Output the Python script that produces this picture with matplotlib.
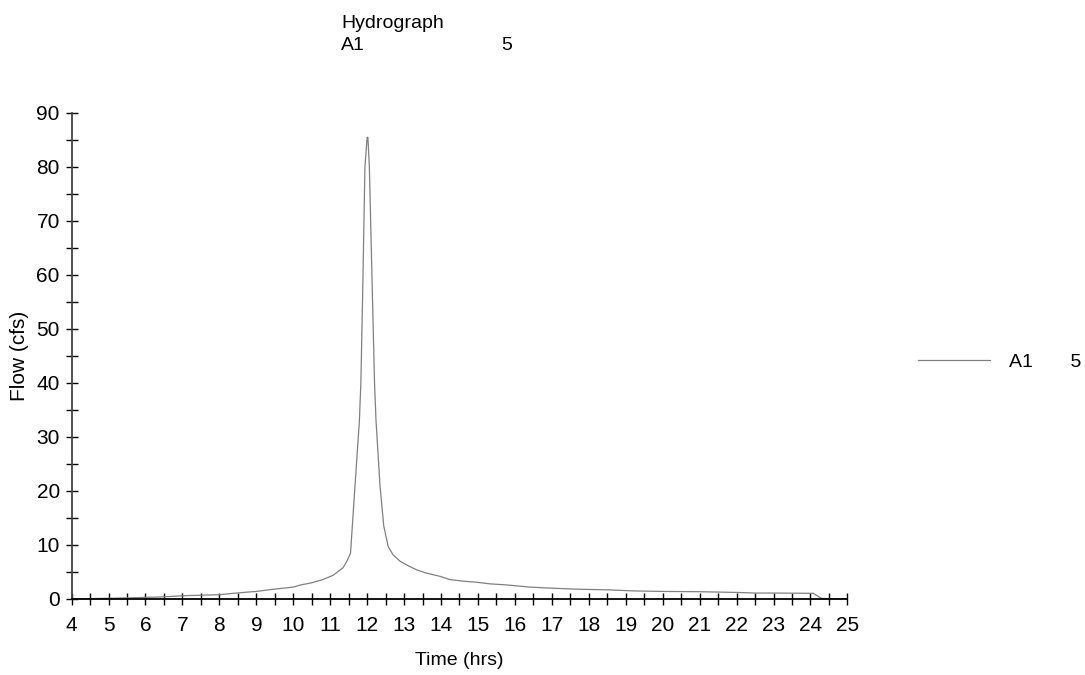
import numpy as np
import matplotlib
matplotlib.use('Agg')
import matplotlib.pyplot as plt
from matplotlib.ticker import MultipleLocator

plt.rcParams['font.family'] = ['Liberation Sans', 'DejaVu Sans']

# hydrograph A1, storm 5
time_hrs = [4.0, 5.5, 6.0, 6.5, 7.0, 7.5, 8.0, 8.3, 8.8, 9.0, 9.45, 10.0, 10.2, 10.5, 10.8, 11.08,
            11.35, 11.45, 11.55, 11.67, 11.79, 11.83, 11.88, 11.94, 12.0, 12.02, 12.06, 12.14,
            12.2, 12.24, 12.35, 12.45, 12.57, 12.7, 12.89, 13.1, 13.34, 13.6, 13.97, 14.24,
            14.6, 14.97, 15.33, 15.78, 16.41, 17.0, 17.77, 18.5, 19.2, 20.0, 21.0, 22.1,
            22.5, 23.0, 24.08, 24.3, 25.0]
flow_cfs = [0.0, 0.2, 0.3, 0.4, 0.6, 0.7, 0.8, 1.0, 1.3, 1.4, 1.8, 2.2, 2.6, 3.0, 3.6, 4.4,
            5.8, 7.0, 8.5, 20.8, 33.0, 40.0, 57.0, 80.0, 85.5, 85.5, 80.0, 57.0,
            40.0, 33.0, 20.8, 13.5, 9.7, 8.2, 7.0, 6.2, 5.4, 4.8, 4.2, 3.6,
            3.3, 3.1, 2.8, 2.6, 2.2, 2.0, 1.8, 1.7, 1.5, 1.4, 1.35, 1.2,
            1.1, 1.1, 1.05, 0.1, 0.0]

fig = plt.figure(figsize=(10.85, 6.75), dpi=100)
ax = fig.add_axes([0.066, 0.1126, 0.715, 0.72])

line, = ax.plot(time_hrs, flow_cfs, color='#808080', lw=0.9)

ax.set_xlim(4, 25)
ax.set_ylim(0, 90)
ax.xaxis.set_major_locator(MultipleLocator(1))
ax.xaxis.set_minor_locator(MultipleLocator(0.5))
ax.yaxis.set_major_locator(MultipleLocator(10))
ax.yaxis.set_minor_locator(MultipleLocator(5))
ax.tick_params(which='both', direction='inout', length=9, width=1.0, color='black',
               labelsize=15, pad=4)
ax.tick_params(axis='x', which='both', pad=8)

for s in ['top', 'right']:
    ax.spines[s].set_visible(False)
for s in ['left', 'bottom']:
    ax.spines[s].set_linewidth(1.3)
ax.spines['left'].set_color('#444444')

ax.set_xlabel('Time (hrs)', fontsize=14, labelpad=12)
ax.set_ylabel('Flow (cfs)', fontsize=15, labelpad=5)

fig.text(0.362, 0.965, 'Hydrograph', fontsize=14, ha='center', va='center')
fig.text(0.325, 0.932, 'A1', fontsize=14, ha='center', va='center')
fig.text(0.467, 0.932, '5', fontsize=14, ha='center', va='center')

fig.legend([line], ['A1       5'], loc='center left', bbox_to_anchor=(0.846, 0.463),
           frameon=False, fontsize=14, handlelength=3.7, handletextpad=1.0,
           borderpad=0, borderaxespad=0)

fig.savefig('out.png', dpi=100)
